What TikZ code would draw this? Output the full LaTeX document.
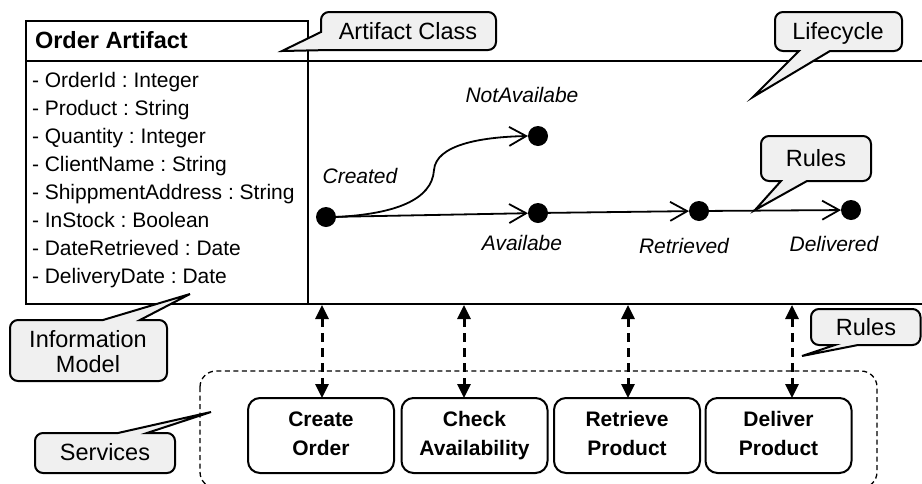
\documentclass[tikz,border=0pt]{standalone}
\usepackage{fontspec}
\setmainfont{Liberation Sans}
\usetikzlibrary{arrows.meta}
\frenchspacing
\begin{document}
\frenchspacing
\begin{tikzpicture}[x=1pt,y=-1pt,
  every node/.style={inner sep=0pt, outer sep=0pt},
  frame/.style={draw=black, line width=2pt},
  attr/.style={anchor=base west, font=\fontsize{21}{25}\selectfont\frenchspacing},
  state/.style={circle, fill=black, minimum size=20pt},
  slabel/.style={anchor=base, font=\fontsize{21}{25}\selectfont\itshape},
  trans/.style={line width=1.8pt, -{Straight Barb[length=17pt,width=19pt]}},
  svc/.style={draw, line width=2pt, rounded corners=12pt, minimum width=146pt, minimum height=75pt, align=center, font=\fontsize{21}{29}\selectfont\bfseries},
  link/.style={line width=3pt, dash pattern=on 9pt off 6pt, {Triangle[length=14pt,width=13pt]}-{Triangle[length=14pt,width=13pt]}},
  cshape/.style={draw=black, fill=gray!12, line width=2pt, line join=miter},
  ctext/.style={anchor=base, font=\fontsize{23.5}{28}\selectfont},
]
\useasboundingbox (0,0) rectangle (922,483);

% services frame
\draw[line width=1.3pt, dash pattern=on 5pt off 3.5pt, rounded corners=16pt] (200,371) rectangle (877,488);

% artifact class and lifecycle frames
\draw[frame] (26,21) rectangle (308,304);
\draw[frame] (26,61) -- (922,61);
\draw[frame] (308,304) -- (922,304);

\node[anchor=base west, font=\fontsize{23.5}{28}\selectfont\bfseries] (title) at (35,48) {Order Artifact};
\foreach \t [count=\i from 0] in {OrderId : Integer, Product : String, Quantity : Integer, ClientName : String, ShippmentAddress : String, InStock : Boolean, DateRetrieved : Date, DeliveryDate : Date}
  \node[attr] (attr\i) at (32,{87.5+28*\i}) {- \t};

% lifecycle states
\node[state] (cr) at (326,217) {};
\node[state] (na) at (538,136) {};
\node[state] (av) at (538,213) {};
\node[state] (rt) at (699,211) {};
\node[state] (dl) at (851,210) {};

\node[slabel] (lna) at (522,102) {NotAvailabe};
\node[slabel] (lcr) at (360,183) {Created};
\node[slabel] (lav) at (522,250) {Availabe};
\node[slabel] (lrt) at (684,253) {Retrieved};
\node[slabel] (ldl) at (834,251) {Delivered};

\draw[trans] (cr) -- (av);
\draw[trans] (av) -- (rt);
\draw[trans] (rt) -- (dl);
\draw[trans] (cr.east) .. controls (395,214) and (432,200) .. (434,170) .. controls (436,145) and (480,137) .. (na.west);

% services
\node[svc] (s1) at (321,435.5) {\strut Create\\\strut Order};
\node[svc] (s2) at (474.5,435.5) {\strut Check\\\strut Availability};
\node[svc] (s3) at (627,435.5) {\strut Retrieve\\\strut Product};
\node[svc] (s4) at (778.5,435.5) {\strut Deliver\\\strut Product};

\coordinate (b1) at (322,305);
\coordinate (b2) at (464,305);
\coordinate (b3) at (628,305);
\coordinate (b4) at (792,305);
\draw[link] (b1) -- (b1 |- s1.north);
\draw[link] (b2) -- (b2 |- s2.north);
\draw[link] (b3) -- (b3 |- s3.north);
\draw[link] (b4) -- (b4 |- s4.north);

% callouts
\draw[cshape] (400,12) [rounded corners=8pt] -- (496,12) -- (496,50) [sharp corners] -- (330,50) -- (282,51) -- (321,32) [rounded corners=8pt] -- (321,12) -- cycle;
\node[ctext] (cac) at (408,39) {Artifact Class};

\draw[cshape] (838,12) [rounded corners=8pt] -- (902,12) -- (902,51) [sharp corners] -- (830,51) -- (753,97) -- (799,51) [rounded corners=8pt] -- (775,51) -- (775,12) -- cycle;
\node[ctext] (clc) at (838,39) {Lifecycle};

\draw[cshape] (816,136) [rounded corners=8pt] -- (871,136) -- (871,181) [sharp corners] -- (807,181) -- (755,210) -- (781,181) [rounded corners=8pt] -- (761,181) -- (761,136) -- cycle;
\node[ctext] (cr1) at (816,166) {Rules};

\draw[cshape] (866,309) [rounded corners=8pt] -- (920.5,309) -- (920.5,345) [sharp corners] -- (858,345) -- (802,356) -- (835,345) [rounded corners=8pt] -- (811,345) -- (811,309) -- cycle;
\node[ctext] (cr2) at (866,335) {Rules};

\draw[cshape] (88,381) [rounded corners=8pt] -- (10,381) -- (10,320) [sharp corners] -- (103,320) -- (190,294) -- (140,320) [rounded corners=8pt] -- (167,320) -- (167,381) -- cycle;
\node[ctext] (cim1) at (88,347) {Information};
\node[ctext] (cim2) at (88,372) {Model};

\draw[cshape] (105,473) [rounded corners=8pt] -- (35,473) -- (35,433) [sharp corners] -- (118,433) -- (211,412) -- (147,433) [rounded corners=8pt] -- (175,433) -- (175,473) -- cycle;
\node[ctext] (csv) at (105,460) {Services};
\end{tikzpicture}
\end{document}
